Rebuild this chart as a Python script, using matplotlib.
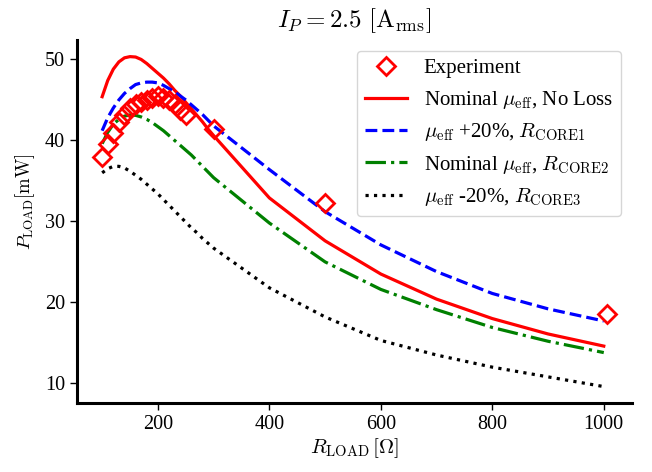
import numpy as np
import matplotlib
matplotlib.use('Agg')
import matplotlib.pyplot as plt

plt.rcParams['font.family'] = 'serif'
plt.rcParams['font.serif'] = ['Liberation Serif', 'DejaVu Serif']
plt.rcParams['mathtext.fontset'] = 'cm'

# carga en ohm (simulacion)
r_sim = [100, 110, 120, 130, 140, 150, 160, 170, 180, 190, 200, 210, 220, 230, 240,
         250, 260, 270, 280, 290, 300, 400, 500, 600, 700, 800, 900, 1000]

p_nominal = [45.4, 47.4, 48.8, 49.7, 50.2, 50.35, 50.3, 50.0, 49.5, 48.9, 48.3, 47.7,
             47.0, 46.2, 45.5, 44.7, 43.9, 43.1, 42.3, 41.4, 40.6,
             32.9, 27.6, 23.5, 20.4, 18.0, 16.1, 14.6]
p_core1 = [41.2, 42.8, 44.0, 45.0, 45.8, 46.4, 46.9, 47.1, 47.2, 47.2, 47.1, 46.8,
           46.4, 46.0, 45.5, 45.0, 44.4, 43.8, 43.2, 42.5, 41.8,
           36.4, 31.2, 27.1, 23.8, 21.1, 19.2, 17.7]
p_core2 = [39.6, 41.0, 42.0, 42.6, 43.0, 43.15, 43.1, 42.9, 42.6, 42.2, 41.7, 41.2,
           40.6, 40.0, 39.4, 38.8, 38.2, 37.5, 36.8, 36.1, 35.4,
           29.8, 25.0, 21.6, 19.1, 16.9, 15.2, 13.8]
p_core3 = [36.0, 36.5, 36.8, 36.8, 36.6, 36.2, 35.7, 35.2, 34.6, 34.0, 33.4, 32.7,
           32.0, 31.3, 30.6, 29.9, 29.2, 28.6, 27.9, 27.3, 26.7,
           21.8, 18.2, 15.3, 13.5, 12.0, 10.8, 9.6]

# medidas experimentales
r_exp = [100, 110, 120, 130, 140, 150, 160, 170, 180, 190, 200, 210, 220, 230, 240,
         250, 300, 500, 1005]
p_exp = [38.0, 39.5, 40.9, 42.3, 43.2, 44.0, 44.5, 44.8, 45.0, 45.2, 45.5, 45.3,
         45.0, 44.5, 43.8, 43.2, 41.4, 32.3, 18.6]

fig = plt.figure(figsize=(6.52, 4.72), dpi=100)
ax = fig.add_axes([0.118, 0.146, 0.851, 0.769])

lw = 2.3
ax.plot(r_exp, p_exp, 'D', color='red', mfc='none', mew=2, ms=9.5, label='Experiment', zorder=5)
ax.plot(r_sim, p_nominal, '-', color='red', lw=lw, label=r'Nominal $\mu_{\rm eff}$, No Loss')
ax.plot(r_sim, p_core1, '--', color='blue', lw=lw, label=r'$\mu_{\rm eff}$ +20%, $R_{\rm CORE1}$')
ax.plot(r_sim, p_core2, '-.', color='green', lw=lw, label=r'Nominal $\mu_{\rm eff}$, $R_{\rm CORE2}$')
ax.plot(r_sim, p_core3, ':', color='black', lw=lw, label=r'$\mu_{\rm eff}$ -20%, $R_{\rm CORE3}$')

ax.spines['top'].set_visible(False)
ax.spines['right'].set_visible(False)
ax.spines['left'].set_linewidth(2.2)
ax.spines['bottom'].set_linewidth(2.2)

ax.set_xticks([200, 400, 600, 800, 1000])
ax.set_yticks([10, 20, 30, 40, 50])
ax.tick_params(labelsize=14.5, length=5, width=1)

ax.set_xlabel(r'$R_{\rm LOAD}\,[\Omega]$', fontsize=15, labelpad=2)
ax.set_ylabel(r'$P_{\rm LOAD}[\rm mW]$', fontsize=13.5)
ax.yaxis.set_label_coords(-0.072, 0.555)
ax.set_title(r'$I_P = 2.5\ [\rm A_{rms}]$', fontsize=18, pad=9)

ax.legend(loc='upper right', fontsize=15, labelspacing=0.5)

plt.savefig('out.png', dpi=100)
